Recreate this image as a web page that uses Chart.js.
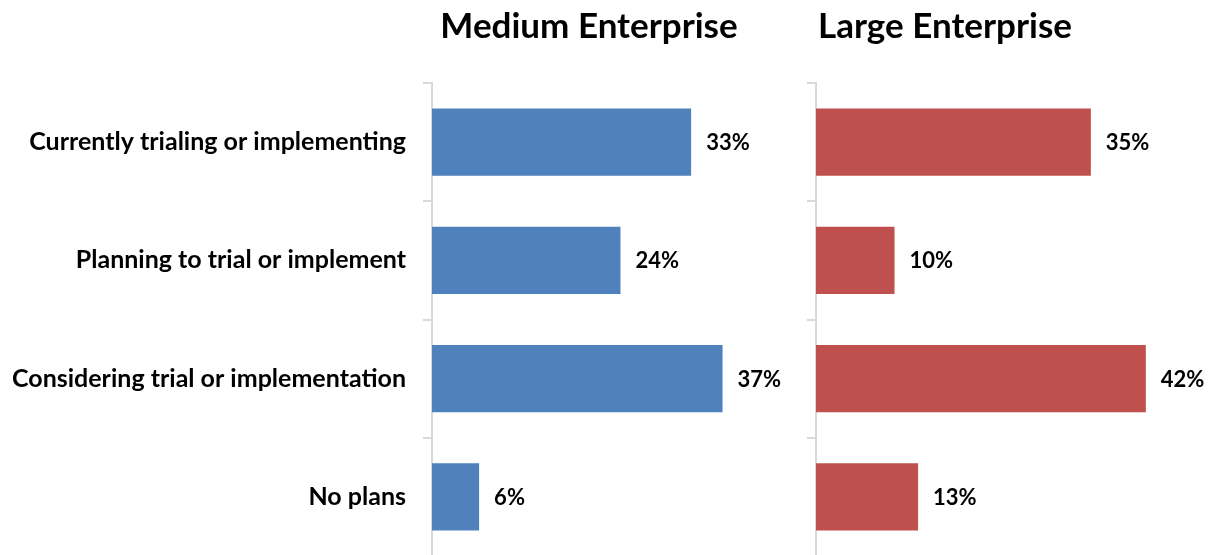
<!DOCTYPE html>
<html>
<head>
<meta charset="utf-8">
<script src="https://cdn.jsdelivr.net/npm/chart.js@4"></script>
<style>
  html, body { margin: 0; padding: 0; background: #fff; overflow: hidden; }
  #wrap { position: relative; width: 1222px; height: 555px; }
  canvas { position: absolute; top: 0; }
  #medium { left: 0; }
  #large { left: 668px; }
</style>
</head>
<body>
<div id="wrap">
  <canvas id="medium" width="1178" height="556"></canvas>
  <canvas id="large" width="554" height="556"></canvas>
</div>
<script>
const categories = [
  'Currently trialing or implementing',
  'Planning to trial or implement',
  'Considering trial or implementation',
  'No plans'
];
const mediumValues = [33, 24, 37, 6];
const largeValues = [35, 10, 42, 13];

const FONT = 'Lato, "Open Sans", sans-serif';
const AXIS_GREY = '#d9d9d9';

// writes "NN%" just past the end of each bar
const valueLabels = {
  id: 'valueLabels',
  afterDatasetsDraw(chart) {
    const ctx = chart.ctx;
    const meta = chart.getDatasetMeta(0);
    const values = chart.data.datasets[0].data;
    ctx.save();
    ctx.font = 'bold 22px ' + FONT;
    ctx.fillStyle = '#000';
    ctx.textAlign = 'left';
    ctx.textBaseline = 'middle';
    meta.data.forEach((bar, i) => {
      ctx.fillText(values[i] + '%', bar.x + 15, bar.y + 1);
    });
    ctx.restore();
  }
};

// both panels share the same px-per-percent; xMax just fills each canvas
function makePanel(canvasId, title, values, colour, axisWidth, xMax, showLabels) {
  return new Chart(document.getElementById(canvasId), {
    type: 'bar',
    data: {
      labels: categories,
      datasets: [{
        data: values,
        backgroundColor: colour,
        borderWidth: 0,
        categoryPercentage: 1,
        barPercentage: 0.57
      }]
    },
    options: {
      indexAxis: 'y',
      responsive: false,
      animation: false,
      devicePixelRatio: 1,
      layout: { padding: 0 },
      plugins: {
        legend: { display: false },
        tooltip: { enabled: false },
        title: {
          display: true,
          text: title,
          color: '#000',
          font: { family: FONT, size: 35, weight: 'bold', lineHeight: 1.2 },
          padding: { top: 6, bottom: 35 }
        }
      },
      scales: {
        x: { display: false, min: 0, max: xMax },
        y: {
          // fixed axis width, and no extra room for the outer labels
          afterFit: s => {
            s.width = axisWidth;
            s.paddingTop = 0;
            s.paddingBottom = 0;
          },
          border: { display: true, color: AXIS_GREY, width: 2 },
          grid: {
            color: AXIS_GREY,
            lineWidth: 2,
            drawOnChartArea: false,
            drawTicks: true,
            tickLength: 9
          },
          ticks: {
            display: showLabels,
            color: '#000',
            padding: 17,
            font: { family: FONT, size: 25, weight: 'bold' }
          }
        }
      }
    },
    plugins: [valueLabels]
  });
}

makePanel('medium', 'Medium Enterprise', mediumValues, '#4F81BD', 432, 95, true);
makePanel('large', 'Large Enterprise', largeValues, '#C0504D', 148, 51.7, false);
</script>
</body>
</html>
